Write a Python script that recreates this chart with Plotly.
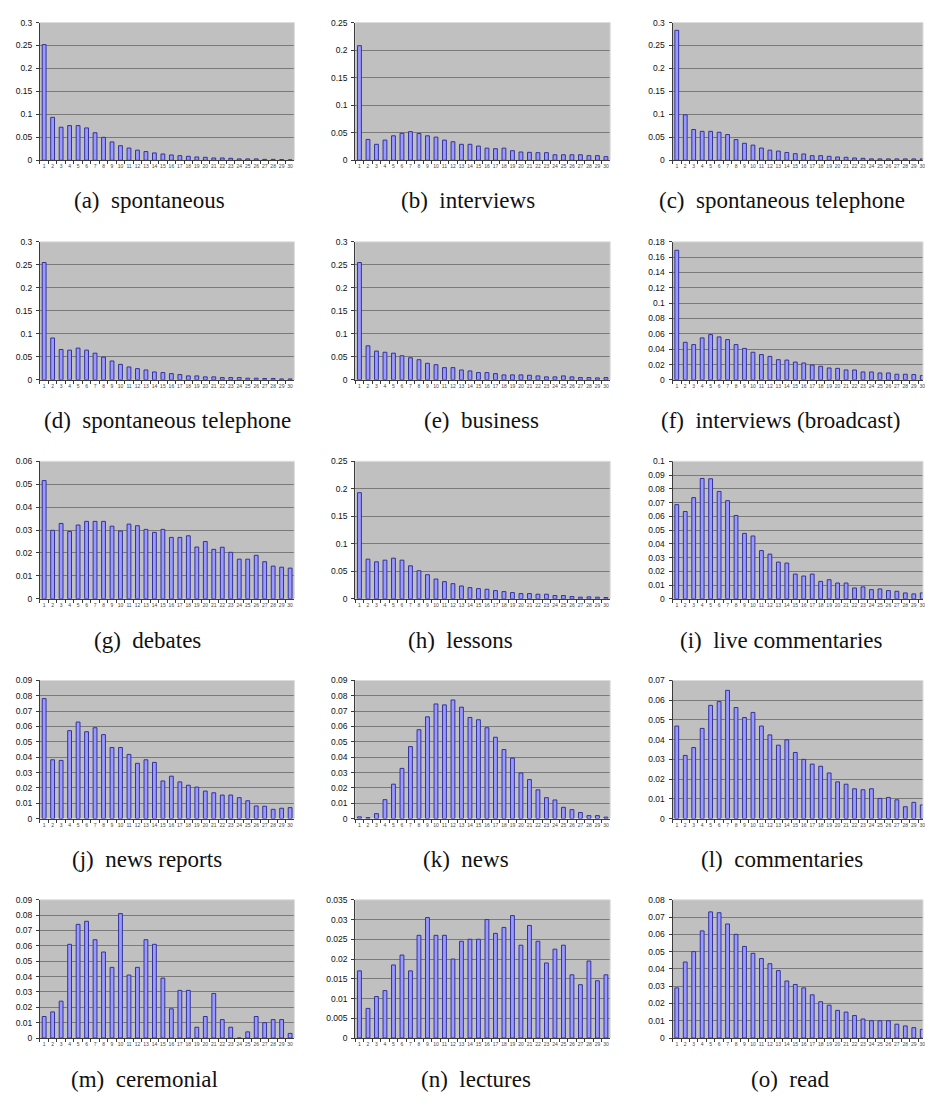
import plotly.graph_objects as go

# Relative frequency of each rank (1..30) for the fifteen speech genres
ranks = [str(i) for i in range(1, 31)]

spontaneous = [0.252, 0.0935, 0.072, 0.0755, 0.0755, 0.0705, 0.060, 0.050, 0.040, 0.0317,
               0.0266, 0.022, 0.019, 0.016, 0.0137, 0.0115, 0.010, 0.0086, 0.0072, 0.0065,
               0.005, 0.005, 0.0043, 0.003, 0.003, 0.003, 0.002, 0.002, 0.0015, 0.001]
interviews = [0.208, 0.0378, 0.029, 0.0366, 0.0444, 0.049, 0.052, 0.0486, 0.0444, 0.042,
              0.0366, 0.0336, 0.029, 0.029, 0.0258, 0.022, 0.021, 0.022, 0.0174, 0.015,
              0.0144, 0.0138, 0.0138, 0.010, 0.010, 0.010, 0.010, 0.0084, 0.0084, 0.0066]
spont_telephone_c = [0.283, 0.099, 0.067, 0.063, 0.063, 0.061, 0.056, 0.045, 0.037, 0.033,
                     0.0266, 0.022, 0.020, 0.017, 0.0144, 0.0137, 0.010, 0.010, 0.0086, 0.0072,
                     0.0065, 0.005, 0.0043, 0.003, 0.003, 0.003, 0.003, 0.003, 0.003, 0.003]
spont_telephone_d = [0.255, 0.091, 0.066, 0.0646, 0.069, 0.0646, 0.058, 0.0495, 0.041, 0.0337,
                     0.028, 0.0244, 0.0215, 0.0172, 0.0158, 0.0136, 0.0115, 0.0086, 0.0086, 0.0065,
                     0.0065, 0.005, 0.005, 0.005, 0.0036, 0.0036, 0.003, 0.003, 0.002, 0.002]
business = [0.255, 0.074, 0.0625, 0.060, 0.058, 0.0524, 0.048, 0.0438, 0.036, 0.033,
            0.0266, 0.0266, 0.0215, 0.0194, 0.0158, 0.0158, 0.0136, 0.0108, 0.0108, 0.0108,
            0.010, 0.0086, 0.0065, 0.0065, 0.0086, 0.0065, 0.005, 0.005, 0.0043, 0.005]
interviews_broadcast = [0.169, 0.049, 0.046, 0.0547, 0.059, 0.056, 0.0525, 0.046, 0.041, 0.036,
                        0.033, 0.0306, 0.0263, 0.0258, 0.0232, 0.022, 0.0194, 0.0177, 0.0155, 0.015,
                        0.0129, 0.0129, 0.0103, 0.0103, 0.009, 0.009, 0.0073, 0.0073, 0.0069, 0.0056]
debates = [0.0516, 0.0299, 0.0329, 0.0294, 0.0322, 0.0338, 0.0338, 0.0338, 0.0317, 0.0296,
           0.0326, 0.0319, 0.0303, 0.029, 0.0303, 0.0268, 0.0268, 0.0275, 0.0226, 0.025,
           0.0216, 0.0225, 0.0203, 0.0173, 0.0173, 0.019, 0.0162, 0.0143, 0.0138, 0.0134]
lessons = [0.193, 0.0721, 0.0673, 0.0703, 0.0739, 0.0703, 0.060, 0.0511, 0.0439, 0.036,
           0.0313, 0.0276, 0.0234, 0.0204, 0.0186, 0.0174, 0.015, 0.0132, 0.0114, 0.0096,
           0.0096, 0.0084, 0.0084, 0.006, 0.006, 0.0042, 0.003, 0.0036, 0.003, 0.0024]
live_commentaries = [0.0685, 0.0635, 0.0736, 0.0875, 0.0873, 0.0781, 0.0714, 0.0606, 0.0476, 0.0457,
                     0.0351, 0.0325, 0.0267, 0.026, 0.018, 0.0166, 0.018, 0.0127, 0.0139, 0.0115,
                     0.0115, 0.0079, 0.0087, 0.0067, 0.0072, 0.006, 0.0055, 0.0043, 0.0036, 0.0043]
news_reports = [0.0782, 0.0383, 0.0379, 0.0573, 0.0629, 0.0566, 0.0592, 0.0547, 0.0463, 0.0463,
                0.0418, 0.036, 0.0383, 0.0366, 0.0245, 0.0276, 0.0239, 0.0217, 0.0205, 0.0179,
                0.0168, 0.0153, 0.0153, 0.0136, 0.0116, 0.0082, 0.008, 0.006, 0.0067, 0.0071]
news = [0.0011, 0.0006, 0.0032, 0.0123, 0.0224, 0.0327, 0.0469, 0.0579, 0.0663, 0.0747,
        0.0741, 0.0773, 0.0726, 0.0659, 0.0644, 0.0592, 0.053, 0.045, 0.0394, 0.0297,
        0.0254, 0.0187, 0.0136, 0.0121, 0.0073, 0.0058, 0.0039, 0.0019, 0.0019, 0.0009]
commentaries = [0.0469, 0.032, 0.036, 0.0457, 0.0574, 0.0593, 0.065, 0.0563, 0.0512, 0.0538,
                0.0469, 0.0424, 0.0372, 0.0399, 0.0335, 0.030, 0.0276, 0.0265, 0.0231, 0.0186,
                0.0174, 0.0151, 0.0146, 0.0151, 0.0102, 0.0107, 0.0095, 0.006, 0.0082, 0.0069]
ceremonial = [0.014, 0.017, 0.024, 0.061, 0.074, 0.076, 0.064, 0.056, 0.046, 0.081,
              0.041, 0.046, 0.064, 0.061, 0.039, 0.019, 0.031, 0.031, 0.007, 0.014,
              0.029, 0.012, 0.007, 0.0, 0.004, 0.014, 0.010, 0.012, 0.012, 0.003]
lectures = [0.017, 0.0075, 0.0105, 0.012, 0.0185, 0.021, 0.017, 0.026, 0.0305, 0.026,
            0.026, 0.020, 0.0245, 0.025, 0.025, 0.030, 0.0265, 0.028, 0.031, 0.0235,
            0.0285, 0.0245, 0.019, 0.0225, 0.0235, 0.016, 0.0135, 0.0195, 0.0145, 0.016]
read = [0.029, 0.044, 0.050, 0.062, 0.073, 0.0725, 0.066, 0.060, 0.053, 0.049,
        0.046, 0.043, 0.039, 0.033, 0.031, 0.029, 0.025, 0.021, 0.019, 0.016,
        0.015, 0.013, 0.011, 0.010, 0.010, 0.010, 0.008, 0.007, 0.006, 0.005]

captions = ["(a)\u00a0 spontaneous", "(b)\u00a0 interviews", "(c)\u00a0 spontaneous telephone",
            "(d)\u00a0 spontaneous telephone", "(e)\u00a0 business", "(f)\u00a0 interviews (broadcast)",
            "(g)\u00a0 debates", "(h)\u00a0 lessons", "(i)\u00a0 live commentaries",
            "(j)\u00a0 news reports", "(k)\u00a0 news", "(l)\u00a0 commentaries",
            "(m)\u00a0 ceremonial", "(n)\u00a0 lectures", "(o)\u00a0 read"]
series = [spontaneous, interviews, spont_telephone_c,
          spont_telephone_d, business, interviews_broadcast,
          debates, lessons, live_commentaries,
          news_reports, news, commentaries,
          ceremonial, lectures, read]
y_max = [0.3, 0.25, 0.3, 0.3, 0.3, 0.18, 0.06, 0.25, 0.1, 0.09, 0.09, 0.07, 0.09, 0.035, 0.08]
y_step = [0.05, 0.05, 0.05, 0.05, 0.05, 0.02, 0.01, 0.05, 0.01, 0.01, 0.01, 0.01, 0.01, 0.005, 0.01]

# ---- page geometry (pixels) ----
W, H = 925, 1099
col_px = [(40, 295), (356, 611.5), (674, 928.5)]
row_px = [(17.7, 156.7), (239, 378.3), (460.5, 599.3), (681.7, 821), (903, 1042.5)]
cap_x = [150, 469, 784, 168, 483, 782, 148, 461, 783, 147, 467, 784, 145, 477, 792]
cap_y = [197, 419, 641, 862, 1084]

BG = "#C0C0C0"
GRID = "#7a7a7a"
AXIS = "#3a3a3a"
BAR_FILL = "#9999FF"
BAR_EDGE = "#333399"

fig = go.Figure()
layout = dict(
    width=W, height=H,
    margin=dict(l=0, r=0, t=0, b=0),
    paper_bgcolor="white", plot_bgcolor=BG,
    showlegend=False, bargap=0.55,
    font=dict(family="Liberation Sans, Arial, sans-serif", color="#111"),
)
shapes = []
annotations = []

for i, vals in enumerate(series):
    r, c = divmod(i, 3)
    k = "" if i == 0 else str(i + 1)
    x0, x1 = col_px[c]
    top, bot = row_px[r]
    vis_x1 = min(x1, W)
    # categories span [-0.5, 29.5]; a panel running past the page edge is cut there
    x_end = -0.5 + 30 * (vis_x1 - x0) / (x1 - x0)

    fig.add_trace(go.Bar(
        x=ranks, y=vals, xaxis="x" + k, yaxis="y" + k,
        marker=dict(color=BAR_FILL, line=dict(color=BAR_EDGE, width=1)),
    ))

    n_ticks = int(round(y_max[i] / y_step[i]))
    tv = [round(j * y_step[i], 6) for j in range(n_ticks + 1)]
    tt = [f"{v:g}" for v in tv]

    layout["xaxis" + k] = dict(
        domain=[x0 / W, vis_x1 / W], anchor="y" + k, type="category",
        range=[-0.5, x_end], showgrid=False, zeroline=False,
        showline=True, linecolor=AXIS, linewidth=1,
        ticks="outside", ticklen=3, tickcolor=AXIS, tickson="boundaries",
        tickfont=dict(size=5, color="#444"), ticklabelstandoff=1,
        tickangle=0, fixedrange=True,
    )
    layout["yaxis" + k] = dict(
        domain=[1 - bot / H, 1 - top / H], anchor="x" + k,
        range=[0, y_max[i]], tickmode="array", tickvals=tv, ticktext=tt,
        showgrid=True, gridcolor=GRID, gridwidth=1, zeroline=False,
        showline=True, linecolor=AXIS, linewidth=1,
        ticks="outside", ticklen=3, tickcolor=AXIS,
        tickfont=dict(size=8.5, color="#111"), ticklabelstandoff=2,
        fixedrange=True,
    )
    # light plot-area border on the top and right edges
    shapes.append(dict(type="line", xref="x" + k + " domain", yref="y" + k + " domain",
                       x0=0, x1=1, y0=1, y1=1, line=dict(color="#dcdcdc", width=1), layer="above"))
    shapes.append(dict(type="line", xref="x" + k + " domain", yref="y" + k + " domain",
                       x0=1, x1=1, y0=0, y1=1, line=dict(color="#dcdcdc", width=1), layer="above"))

    annotations.append(dict(
        text=captions[i], xref="paper", yref="paper",
        x=cap_x[i] / W, y=1 - cap_y[r] / H, xanchor="center", yanchor="middle",
        showarrow=False,
        font=dict(family="Liberation Serif, Times New Roman, serif", size=23, color="#111"),
    ))

layout["shapes"] = shapes
layout["annotations"] = annotations
fig.update_layout(**layout)
fig.write_html("out.html")
